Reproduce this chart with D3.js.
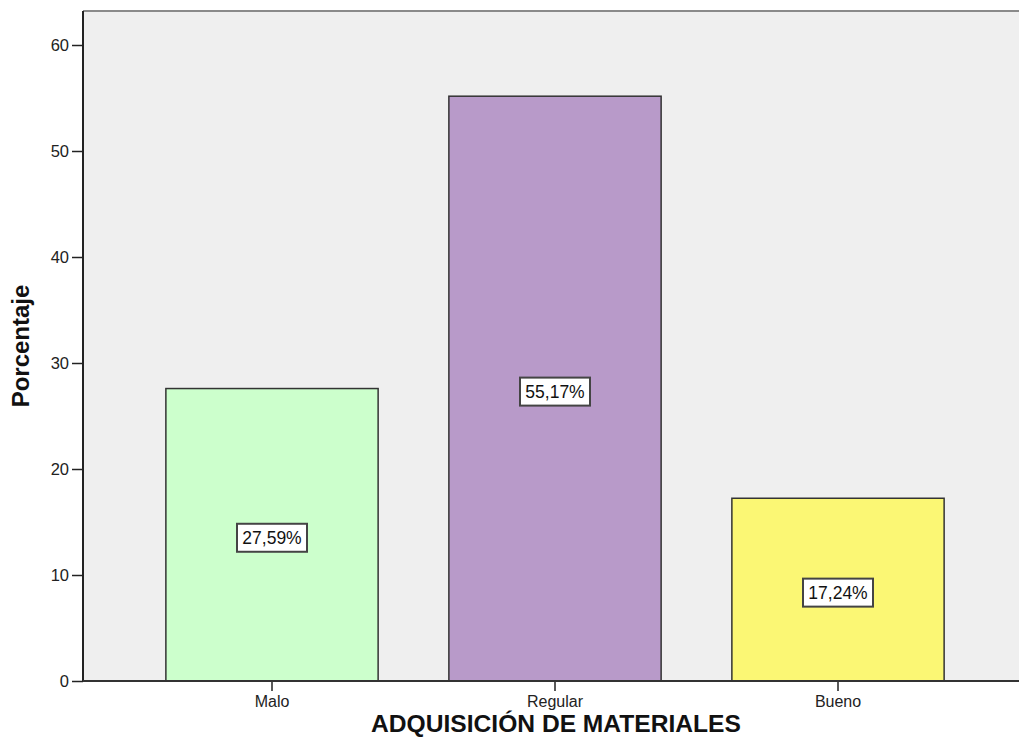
<!DOCTYPE html>
<html>
<head>
<meta charset="utf-8">
<script src="https://cdn.jsdelivr.net/npm/d3@7"></script>
<style>
  html, body { margin: 0; padding: 0; background: #ffffff; }
  svg { display: block; font-family: Arial, "Liberation Sans", sans-serif; }
</style>
</head>
<body>
<svg id="chart" width="1019" height="753"></svg>
<script>
// Categories, values and colours for the bar chart
const categories = ["Malo", "Regular", "Bueno"];
const percentages = [27.59, 55.17, 17.24];
const valueLabels = ["27,59%", "55,17%", "17,24%"];
const barColors = ["#ccffcc", "#b89ac9", "#fbf774"];
const yTicks = [0, 10, 20, 30, 40, 50, 60];
const yAxisTitle = "Porcentaje";
const xAxisTitle = "ADQUISICIÓN DE MATERIALES";

const svg = d3.select("#chart");
const W = 1019;
const plot = { left: 83, top: 11, right: W, bottom: 681 };

// Value axis: 0 at the baseline, 60 at y=45
const y = d3.scaleLinear().domain([0, 60]).range([plot.bottom, 45]);

// Category axis
const x = d3.scaleBand()
  .domain(categories)
  .range([130.5, 979.5])
  .paddingInner(0.25)
  .paddingOuter(0.125);

// Plot background
svg.append("rect")
  .attr("x", plot.left).attr("y", plot.top)
  .attr("width", plot.right - plot.left)
  .attr("height", plot.bottom - plot.top)
  .attr("fill", "#efefef");

// Top frame line
svg.append("line")
  .attr("x1", plot.left).attr("x2", plot.right)
  .attr("y1", plot.top).attr("y2", plot.top)
  .attr("stroke", "#8a8a8a").attr("stroke-width", 2);

// Bars
svg.append("g").selectAll("rect")
  .data(categories)
  .join("rect")
  .attr("x", d => x(d))
  .attr("y", (d, i) => y(percentages[i]))
  .attr("width", x.bandwidth())
  .attr("height", (d, i) => y(0) - y(percentages[i]))
  .attr("fill", (d, i) => barColors[i])
  .attr("stroke", "#333333")
  .attr("stroke-width", 1.5);

// Y axis
const yAxis = d3.axisLeft(y).tickValues(yTicks).tickSize(11).tickPadding(3).tickFormat(d3.format("d"));
const gy = svg.append("g")
  .attr("transform", `translate(${plot.left},0)`)
  .call(yAxis);
gy.select(".domain").remove();
gy.selectAll(".tick line").attr("stroke", "#222").attr("stroke-width", 1.5);
gy.selectAll(".tick text").attr("fill", "#222").style("font-size", "16.5px");
svg.append("line")
  .attr("x1", plot.left).attr("x2", plot.left)
  .attr("y1", plot.top).attr("y2", plot.bottom)
  .attr("stroke", "#222").attr("stroke-width", 2);

// X axis
const xAxis = d3.axisBottom(x).tickSize(10).tickPadding(5);
const gx = svg.append("g")
  .attr("transform", `translate(0,${plot.bottom})`)
  .call(xAxis);
gx.select(".domain").remove();
gx.selectAll(".tick line").attr("stroke", "#222").attr("stroke-width", 1.5);
gx.selectAll(".tick text").attr("fill", "#222").style("font-size", "16px");
svg.append("line")
  .attr("x1", plot.left).attr("x2", plot.right)
  .attr("y1", plot.bottom).attr("y2", plot.bottom)
  .attr("stroke", "#333").attr("stroke-width", 2);

// Value labels in boxes at the middle of each bar
const labels = svg.append("g").selectAll("g")
  .data(categories)
  .join("g")
  .attr("transform", (d, i) => `translate(${x(d) + x.bandwidth() / 2},${y(percentages[i] / 2) + 3})`);
labels.append("rect")
  .attr("x", -35).attr("y", -14)
  .attr("width", 70).attr("height", 28)
  .attr("fill", "#ffffff")
  .attr("stroke", "#444").attr("stroke-width", 2);
labels.append("text")
  .attr("text-anchor", "middle")
  .attr("dy", "0.36em")
  .attr("fill", "#111")
  .style("font-size", "17.5px")
  .text((d, i) => valueLabels[i]);

// Axis titles
svg.append("text")
  .attr("transform", "translate(29,346) rotate(-90)")
  .attr("text-anchor", "middle")
  .attr("fill", "#111")
  .style("font-size", "24px").style("font-weight", "bold")
  .text(yAxisTitle);
svg.append("text")
  .attr("x", 556).attr("y", 732)
  .attr("text-anchor", "middle")
  .attr("fill", "#111")
  .style("font-size", "24.6px").style("font-weight", "bold")
  .text(xAxisTitle);
</script>
</body>
</html>
